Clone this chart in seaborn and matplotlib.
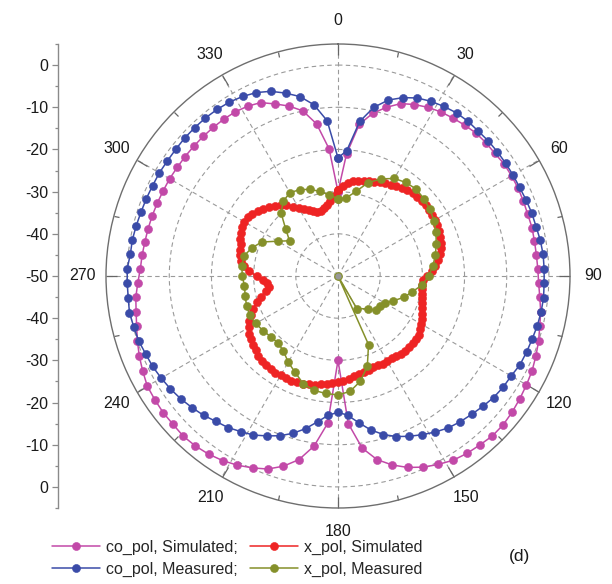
import numpy as np
import pandas as pd
import matplotlib
matplotlib.use("Agg")
import matplotlib.pyplot as plt
import seaborn as sns
from matplotlib.ticker import MultipleLocator, FixedLocator

sns.set_theme(style="white")
plt.rcParams['font.family'] = ['Liberation Sans', 'DejaVu Sans']

# ---- radiation pattern data (dB), angles in degrees ----
co_angles = np.arange(0, 360, 4)
co_pol_simulated = [
    -30.0, -21.0, -13.7, -10.6, -8.4, -6.5, -5.5, -4.7, -4.1, -3.7,
    -3.3, -2.9, -2.8, -2.8, -2.5, -2.5, -2.5, -2.6, -2.7, -2.6,
    -2.7, -2.7, -2.6, -2.4, -1.9, -1.2, -0.7, 0.0, 0.6, 1.2,
    1.6, 2.0, 2.4, 2.7, 2.7, 2.3, 2.0, 1.5, 0.6, -0.4,
    -1.7, -3.4, -5.5, -8.8, -14.9, -30.0, -15.0, -9.3, -5.5, -3.1,
    -1.3, -0.2, 0.8, 1.6, 2.2, 2.6, 2.8, 2.6, 2.6, 2.4,
    2.2, 1.5, 0.8, 0.0, -0.8, -1.4, -1.8, -2.5, -3.1, -3.3,
    -3.5, -3.6, -3.7, -3.8, -3.9, -3.9, -4.0, -4.0, -4.0, -4.0,
    -4.0, -4.0, -4.1, -4.4, -5.0, -6.6, -8.1, -10.0, -13.6, -19.8,
]
co_pol_measured = [
    -22.0, -20.2, -13.0, -9.1, -6.6, -5.0, -3.8, -3.1, -2.6, -2.2,
    -2.1, -2.2, -2.1, -2.1, -2.1, -2.1, -2.1, -1.9, -1.7, -1.6,
    -1.3, -1.1, -1.1, -1.1, -1.0, -1.1, -1.3, -1.6, -1.8, -2.0,
    -2.6, -2.8, -3.2, -3.8, -4.4, -4.9, -5.5, -6.4, -7.4, -8.4,
    -9.5, -10.9, -12.7, -14.9, -16.9, -17.7, -16.9, -15.1, -13.0, -11.2,
    -9.7, -8.5, -7.3, -6.5, -5.6, -5.0, -4.1, -3.4, -2.7, -2.1,
    -1.6, -1.1, -0.8, -0.3, -0.1, 0.2, 0.0, 0.0, 0.0, -0.5,
    -0.5, -0.7, -0.9, -1.0, -1.1, -1.1, -1.2, -1.2, -1.1, -1.1,
    -1.1, -1.2, -1.4, -1.8, -2.4, -3.4, -4.9, -6.5, -9.0, -13.1,
]

xs_angles = np.arange(0, 360, 3)
x_pol_simulated = [
    -29.5, -28.6, -27.8, -27.3, -26.9, -26.6, -26.3, -26.1, -25.7, -25.3,
    -25.0, -24.6, -24.2, -23.9, -23.6, -23.4, -23.3, -23.2, -23.2, -23.4,
    -23.5, -23.6, -23.8, -24.0, -24.3, -24.7, -25.2, -26.0, -26.9, -27.8,
    -29.0, -29.8, -30.0, -29.9, -29.7, -29.5, -29.0, -28.6, -28.1, -27.6,
    -27.2, -26.8, -26.4, -26.2, -26.2, -26.2, -26.2, -26.3, -26.6, -26.7,
    -26.7, -26.7, -26.8, -26.8, -26.6, -26.4, -26.2, -25.9, -25.5, -25.1,
    -24.8, -24.5, -24.2, -24.0, -23.7, -23.4, -23.1, -23.0, -22.8, -22.8,
    -22.8, -22.7, -22.8, -22.9, -23.0, -23.2, -23.7, -24.1, -24.5, -24.8,
    -25.6, -26.4, -27.4, -28.5, -29.7, -31.0, -32.6, -33.4, -33.1, -32.2,
    -30.8, -28.8, -27.5, -26.8, -26.3, -26.0, -25.8, -25.2, -24.8, -24.5,
    -24.4, -24.5, -24.9, -25.6, -26.2, -27.0, -27.7, -28.4, -29.2, -30.4,
    -31.3, -32.1, -32.9, -33.5, -34.0, -34.0, -33.6, -33.0, -32.2, -31.0,
]

xm_angles = [
    0, 6, 12, 18, 24, 30, 36, 42, 48, 54, 60, 66, 72, 78, 84, 90,
    96, 102, 108, 114, 120, 126, 132, 138, 150, 153, 156, 162, 168, 174,
    180, 186, 192, 198, 204, 210, 216, 222, 228, 234, 240, 246, 252, 258,
    264, 270, 276, 282, 288, 294, 300, 306, 312, 318, 324, 330, 336, 342,
    348, 354,
]
x_pol_measured = [
    -31.7, -31.4, -29.5, -26.7, -24.8, -23.3, -22.6, -22.3, -22.6, -23.1,
    -23.7, -24.6, -25.5, -26.4, -27.4, -28.5, -29.9, -32.0, -33.6, -35.6,
    -37.2, -37.8, -37.9, -39.5, -41.1, -50.0, -32.2, -27.5, -24.5, -22.5,
    -21.8, -22.0, -22.3, -23.2, -25.0, -26.4, -28.0, -28.7, -28.5, -28.0,
    -27.5, -27.1, -27.2, -27.5, -27.7, -27.3, -27.1, -27.2, -28.5, -30.2,
    -33.5, -35.8, -33.3, -29.8, -28.0, -27.2, -27.6, -28.4, -29.5, -30.7,
]

series = [
    ("co_pol, Simulated;", co_angles, co_pol_simulated, "#C249A8"),
    ("co_pol, Measured;", co_angles, co_pol_measured, "#3A4BA8"),
    ("x_pol, Simulated", xs_angles, x_pol_simulated, "#EE2424"),
    ("x_pol, Measured", xm_angles, x_pol_measured, "#85902A"),
]

W, H = 612, 584
fig = plt.figure(figsize=(W / 100, H / 100), dpi=100)

cx, cy, R = 338, 276, 232
ax = fig.add_axes([(cx - R) / W, (H - cy - R) / H, 2 * R / W, 2 * R / H],
                  projection="polar")
ax.set_theta_zero_location("N")
ax.set_theta_direction(-1)

for label, ang, vals, color in series:
    ang = list(ang) + [360]
    vals = list(vals) + [vals[0]]
    df = pd.DataFrame({"theta": np.deg2rad(ang), "r": vals})
    sns.lineplot(data=df, x="theta", y="r", ax=ax, sort=False, estimator=None,
                 color=color, linewidth=1.1, marker="o", markersize=5.8,
                 markeredgecolor=color, markeredgewidth=0.4, label=label,
                 legend=False)

ax.set_ylim(-50, 5)
ax.set_yticks([-40, -30, -20, -10, 0])
ax.set_yticklabels([])
ax.set_xlabel("")
ax.set_ylabel("")
theta_major = np.arange(0, 360, 30)
ax.set_xticks(np.deg2rad(theta_major))
ax.set_xticklabels([str(a) for a in theta_major], fontsize=11.5, color="#1a1a1a")
ax.xaxis.set_minor_locator(FixedLocator(np.deg2rad(np.arange(15, 360, 30))))
ax.tick_params(axis="x", which="major", bottom=False, top=True, direction="in",
               length=8, width=0.9, color="#666666", pad=10)
ax.tick_params(axis="x", which="minor", bottom=False, top=True, direction="in",
               length=4, width=0.9, color="#666666")
ax.grid(True, color="#9a9a9a", linestyle=(0, (4, 3)), linewidth=0.8)
ax.spines["polar"].set_color("#6e6e6e")
ax.spines["polar"].set_linewidth(1.0)
ax.plot([0], [-50], marker="o", markersize=3.5, color="#999999", zorder=5)

# mirrored linear scale on the left
lax = fig.add_axes([58 / W, (H - cy - R) / H, 0.001, 2 * R / H])
lax.set_ylim(-55, 55)
lax.set_xticks([])
for s in ["top", "right", "bottom"]:
    lax.spines[s].set_visible(False)
lax.spines["left"].set_color("#8a8a8a")
lax.spines["left"].set_linewidth(1.0)
pos = np.arange(-50, 51, 10)
lax.yaxis.set_major_locator(FixedLocator(pos))
lax.set_yticklabels([str(int(abs(p) - 50)) for p in pos], fontsize=11.5,
                    color="#1a1a1a")
lax.yaxis.set_minor_locator(MultipleLocator(5))
lax.tick_params(axis="y", which="major", left=True, direction="out", length=4,
                width=0.9, color="#8a8a8a", pad=3)
lax.tick_params(axis="y", which="minor", left=True, direction="out",
                length=2.5, width=0.9, color="#8a8a8a")
lax.patch.set_visible(False)

handles, labels = ax.get_legend_handles_labels()
fig.legend(handles, labels, loc="upper left", ncol=2,
           bbox_to_anchor=(52 / W, 1 - 540 / H), frameon=False,
           fontsize=11.5, handlelength=3.0, handletextpad=0.35,
           columnspacing=0.8, labelspacing=0.4, borderpad=0,
           borderaxespad=0, numpoints=1)
fig.text(520 / W, 1 - 556 / H, "(d)", fontsize=12.5, ha="center",
         va="center", color="#1a1a1a")

fig.savefig("out.png", dpi=100)
